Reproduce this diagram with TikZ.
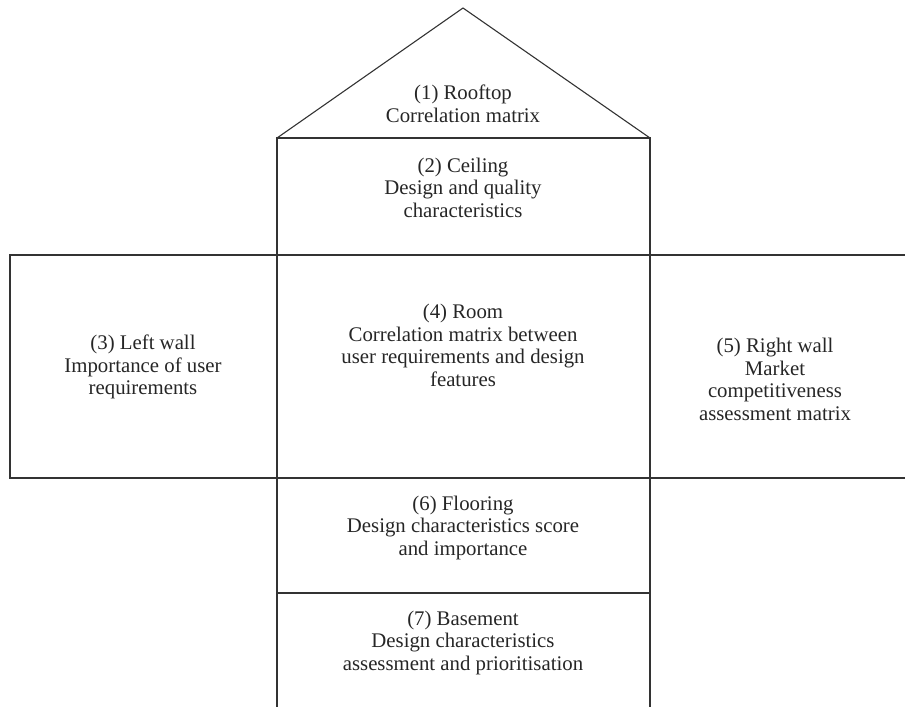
\documentclass[tikz,border=0pt]{standalone}
\usepackage{fontspec}
\setmainfont{Liberation Serif}
\begin{document}
\begin{tikzpicture}[x=1pt,y=-1pt,
  wall/.style={draw=black!80,line width=1.1pt},
  lbl/.style={align=center,font=\fontsize{20.8}{22.5}\selectfont,text=black!85,inner sep=0pt}]
\useasboundingbox (0,0) rectangle (905,707);
% roof
\coordinate (apex) at (463,8);
\coordinate (rl) at (277,138);
\coordinate (rr) at (650,138);
\draw[wall] (rl) -- (apex) -- (rr);
% ceiling
\draw[wall] (277,138) rectangle (650,255);
% left wall
\draw[wall] (10,255) rectangle (277,478);
% room
\draw[wall] (277,255) rectangle (650,478);
% right wall (open on the right edge)
\draw[wall] (650,255) -- (905,255);
\draw[wall] (650,478) -- (905,478);
% flooring
\draw[wall] (277,478) rectangle (650,593);
% basement (open at bottom)
\draw[wall] (277,593) -- (277,707);
\draw[wall] (650,593) -- (650,707);

\node[lbl] (roof) at (463,104) {(1) Rooftop\\Correlation matrix};
\node[lbl] (ceil) at (463,187.5) {(2) Ceiling\\Design and quality\\characteristics};
\node[lbl] (left) at (143,367) {(3) Left wall\\Importance of user\\requirements};
\node[lbl] (room) at (463,345.5) {(4) Room\\Correlation matrix between\\user requirements and design\\features};
\node[lbl] (right) at (775,379.5) {(5) Right wall\\Market\\competitiveness\\assessment matrix};
\node[lbl] (floor) at (463,527.5) {(6) Flooring\\Design characteristics score\\and importance};
\node[lbl] (base) at (463,642.5) {(7) Basement\\Design characteristics\\assessment and prioritisation};
\end{tikzpicture}
\end{document}
